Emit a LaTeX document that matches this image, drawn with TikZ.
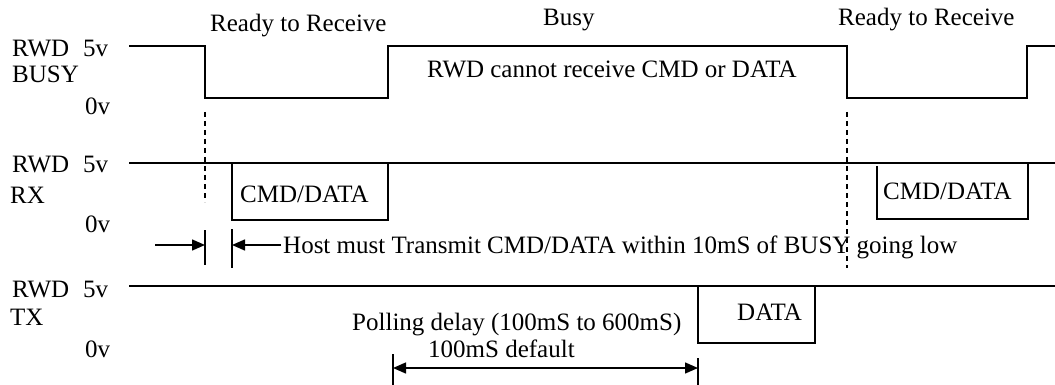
\documentclass[tikz,border=0pt]{standalone}
\usepackage{fontspec}
\setmainfont{Liberation Serif}
\usetikzlibrary{arrows.meta}
\begin{document}
\begin{tikzpicture}[x=1pt,y=-1pt,
  wave/.style={line width=1.6pt,line join=miter},
  guide/.style={line width=1.3pt,dash pattern=on 5pt off 4pt},
  tick/.style={line width=1.4pt},
  dim/.style={line width=1.4pt,-{Triangle[length=13pt,width=11pt]}},
  lbl/.style={inner sep=0pt,anchor=base west,font=\fontsize{25}{30}\selectfont}]
\useasboundingbox (0,0) rectangle (1055,385);
% labels at left
\node[lbl] (l1a) at (12,57) {RWD};
\node[lbl] (l1b) at (83,57) {5v};
\node[lbl] (l1c) at (12,83) {BUSY};
\node[lbl] (l1d) at (85,115) {0v};
\node[lbl] (l2a) at (12,172) {RWD};
\node[lbl] (l2b) at (83,172) {5v};
\node[lbl] (l2c) at (10,203) {RX};
\node[lbl] (l2d) at (85,232) {0v};
\node[lbl] (l3a) at (12,297) {RWD};
\node[lbl] (l3b) at (83,297) {5v};
\node[lbl] (l3c) at (10,325) {TX};
\node[lbl] (l3d) at (85,357) {0v};
% top labels
\node[lbl] (ready1) at (210,32) {Ready to Receive};
\node[lbl] (busy) at (543,26) {Busy};
\node[lbl] (ready2) at (838,26) {Ready to Receive};
\node[lbl] (cannot) at (427,78) {RWD cannot receive CMD or DATA};
% BUSY waveform
\coordinate (b0) at (129,46);
\coordinate (b1) at (205,46);
\coordinate (b2) at (205,98);
\coordinate (b3) at (388,98);
\coordinate (b4) at (388,46);
\coordinate (b5) at (847,46);
\coordinate (b6) at (847,98);
\coordinate (b7) at (1027,98);
\coordinate (b8) at (1027,46);
\coordinate (b9) at (1055,46);
\draw[wave] (b0) -- (b1) -- (b2) -- (b3) -- (b4) -- (b5) -- (b6) -- (b7) -- (b8) -- (b9);
% dashed guides
\coordinate (d1a) at (205,112);
\coordinate (d1b) at (205,202);
\coordinate (d2a) at (847,112);
\coordinate (d2b) at (847,268);
\draw[guide] (d1a) -- (d1b);
\draw[guide] (d2a) -- (d2b);
% RX line
\coordinate (r0) at (129,163);
\coordinate (r9) at (1055,163);
\draw[wave] (r0) -- (r9);
\coordinate (c1a) at (232,163);
\coordinate (c1b) at (232,220);
\coordinate (c1c) at (388,220);
\coordinate (c1d) at (388,163);
\draw[wave] (c1a) -- (c1b) -- (c1c) -- (c1d);
\node[lbl] (cmd1) at (240,202) {CMD/DATA};
\coordinate (c2a) at (877,166);
\coordinate (c2b) at (877,219);
\coordinate (c2c) at (1028,219);
\coordinate (c2d) at (1028,163);
\draw[wave] (c2a) -- (c2b) -- (c2c) -- (c2d);
\node[lbl] (cmd2) at (883,200) {CMD/DATA};
% 10 mS window
\coordinate (t1a) at (205,230);
\coordinate (t1b) at (205,265);
\coordinate (t2a) at (232,229);
\coordinate (t2b) at (232,268);
\draw[tick] (t1a) -- (t1b);
\draw[tick] (t2a) -- (t2b);
\coordinate (a1s) at (155,245);
\coordinate (a1e) at (205,245);
\coordinate (a2s) at (281,245);
\coordinate (a2e) at (232,245);
\draw[dim] (a1s) -- (a1e);
\draw[dim] (a2s) -- (a2e);
\node[lbl] (host) at (283,253) {Host must Transmit CMD/DATA within 10mS of BUSY going low};
% TX line
\coordinate (x0) at (129,286);
\coordinate (x9) at (1055,286);
\draw[wave] (x0) -- (x9);
\coordinate (da) at (698,286);
\coordinate (db) at (698,343);
\coordinate (dc) at (815,343);
\coordinate (dd) at (815,287);
\draw[wave] (da) -- (db) -- (dc) -- (dd);
\node[lbl] (data) at (737,320) {DATA};
% polling delay
\node[lbl] (poll1) at (352,330) {Polling delay (100mS to 600mS)};
\node[lbl] (poll2) at (428,357) {100mS default};
\coordinate (p1a) at (393,354);
\coordinate (p1b) at (393,385);
\coordinate (p2a) at (698,358);
\coordinate (p2b) at (698,385);
\draw[tick] (p1a) -- (p1b);
\draw[tick] (p2a) -- (p2b);
\coordinate (pl) at (393,368);
\coordinate (pr) at (698,368);
\draw[dim,{Triangle[length=13pt,width=11pt]}-{Triangle[length=13pt,width=11pt]}] (pl) -- (pr);
\end{tikzpicture}
\end{document}
